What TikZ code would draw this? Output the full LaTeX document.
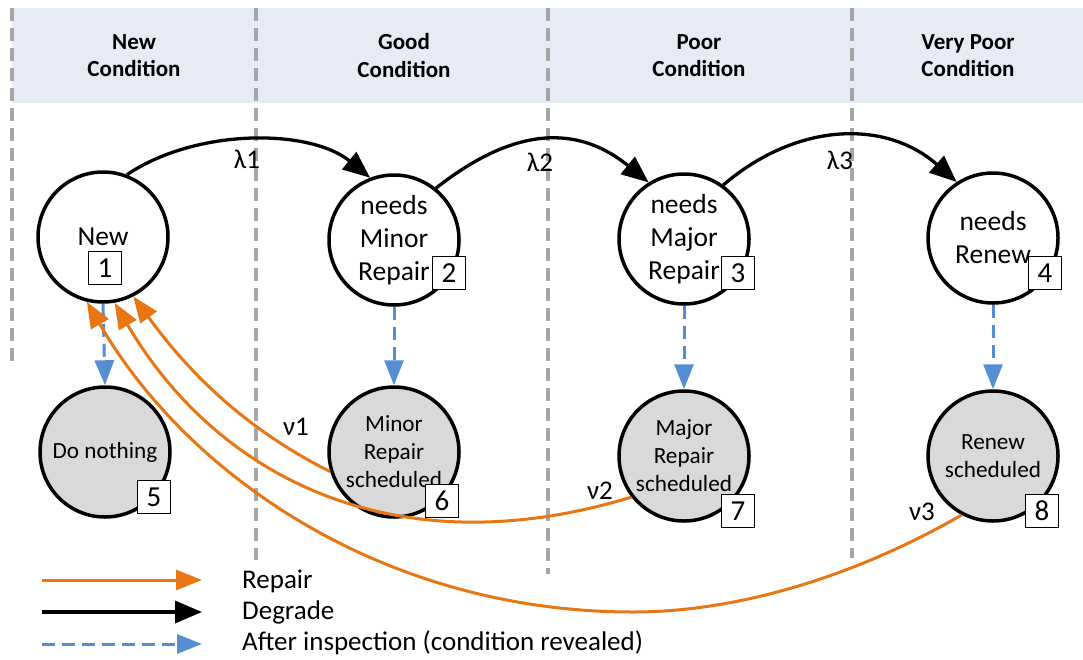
\documentclass[tikz,border=0pt]{standalone}
\usepackage{fontspec}
\setmainfont{Carlito}
\usetikzlibrary{arrows.meta}
\definecolor{bandfill}{RGB}{231,235,245}
\definecolor{laneline}{RGB}{166,166,166}
\definecolor{repairc}{RGB}{232,118,18}
\definecolor{inspectc}{RGB}{85,142,213}
\definecolor{actfill}{RGB}{217,217,217}
\begin{document}
\begin{tikzpicture}[x=1pt,y=-1pt,
  state/.style={circle, draw=black, line width=3.5pt, fill=white, minimum size=130pt,
    inner sep=0pt, align=center, font=\fontsize{27.5}{33}\selectfont},
  action/.style={state, fill=actfill, font=\fontsize{23.2}{28}\selectfont},
  numbox/.style={draw=black, line width=1.4pt, fill=white, minimum size=33pt,
    inner sep=0pt, font=\fontsize{29}{30}\selectfont},
  lane/.style={draw=laneline, line width=3.2pt, dash pattern=on 13pt off 7pt},
  header/.style={font=\bfseries\fontsize{23}{27.5}\selectfont, align=center},
  degrade/.style={draw=black, line width=3.3pt, -{Triangle[length=27pt,width=22pt]}},
  repair/.style={draw=repairc, line width=3pt, -{Triangle[length=26pt,width=20pt]}},
  inspect/.style={draw=inspectc, line width=3pt, dash pattern=on 13pt off 7pt,
    -{Triangle[length=25pt,width=19pt]}},
  lbl/.style={font=\fontsize{27}{30}\selectfont, anchor=base, inner sep=0pt},
]
\useasboundingbox (0,0) rectangle (1083,659);

% header band and lane separators
\fill[bandfill] (12,8) rectangle (1083,103);
\draw[lane] (12,8) -- (12,365);
\draw[lane] (256,8) -- (256,560);
\draw[lane] (548,8) -- (548,574);
\draw[lane] (852,8) -- (852,558);

\node[header] (h1) at (134,55.5) {New\\Condition};
\node[header] (h2) at (404,55.5) {Good\\Condition};
\node[header] (h3) at (699,55.5) {Poor\\Condition};
\node[header] (h4) at (968,55.5) {Very Poor\\Condition};

% condition states
\node[state] (n1) at (103,237) {New};
\node[state] (n2) at (394,240) {needs\\Minor\\Repair};
\node[state] (n3) at (684,239) {needs\\Major\\Repair};
\node[state] (n4) at (993,238) {needs\\Renew};

% action states
\node[action] (n5) at (105,452) {Do nothing};
\node[action] (n6) at (394,452) {Minor\\Repair\\scheduled};
\node[action] (n7) at (684,456) {Major\\Repair\\scheduled};
\node[action] (n8) at (993,456) {Renew\\scheduled};

% degradation
\draw[degrade] (n1.69) .. controls +(70,-47) and +(-60,-49) .. (n2.111);
\draw[degrade] (n2.51) .. controls +(80,-63) and +(-70,-57) .. (n3.122);
\draw[degrade] (n3.54) .. controls +(75,-64) and +(-70,-62) .. (n4.123);
\node[lbl] (l1) at (247,168) {λ1};
\node[lbl] (l2) at (540,171) {λ2};
\node[lbl] (l3) at (840,169) {λ3};

% inspection
\draw[inspect] (n1.south) -- (n5.north);
\draw[inspect] (n2.south) -- (n6.north);
\draw[inspect] (n3.south) -- (n7.north);
\draw[inspect] (n4.south) -- (n8.north);

% repair back to new
\coordinate (low) at (633,612);
\draw[repair] (n6.197) .. controls +(-103,-51) and +(38,52) .. (n1.297);
\draw[repair] (n7.218) .. controls +(-239,73) and +(101,172) .. (n1.280);
\draw[repair] (n8.242) .. controls +(-104,60) and +(107,0) .. (low)
  .. controls +(-250,0) and +(100,173) .. (n1.256);
\node[lbl] (v1) at (296,435) {ν1};
\node[lbl] (v2) at (600,499) {ν2};
\node[lbl] (v3) at (922,520) {ν3};

% state numbers
\node[numbox] (b1) at (105,268) {1};
\node[numbox] (b2) at (449,273) {2};
\node[numbox] (b3) at (738,273) {3};
\node[numbox] (b4) at (1045,273) {4};
\node[numbox] (b5) at (154,497) {5};
\node[numbox] (b6) at (442,501) {6};
\node[numbox] (b7) at (738,511) {7};
\node[numbox] (b8) at (1042,511) {8};

% legend
\coordinate (r0) at (42,580);  \coordinate (r1) at (202,580);
\coordinate (d0) at (42,612);  \coordinate (d1) at (202,612);
\coordinate (i0) at (42,644);  \coordinate (i1) at (202,644);
\draw[repair] (r0) -- (r1);
\draw[degrade] (d0) -- (d1);
\draw[inspect] (i0) -- (i1);
\node[lbl, anchor=base west] (t1) at (242,588) {Repair};
\node[lbl, anchor=base west] (t2) at (242,619) {Degrade};
\node[lbl, anchor=base west] (t3) at (242,650) {After inspection (condition revealed)};
\end{tikzpicture}
\end{document}
